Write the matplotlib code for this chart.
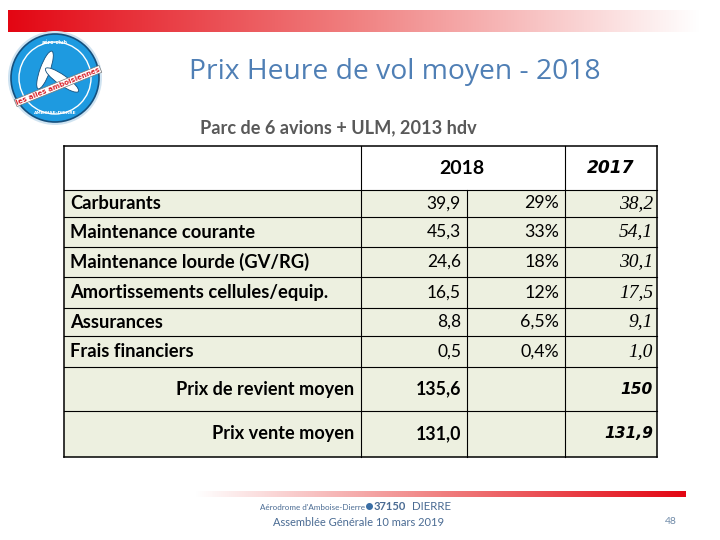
import matplotlib
matplotlib.use("Agg")
import matplotlib.pyplot as plt
import numpy as np
from matplotlib.patches import Rectangle, Circle, Ellipse
from matplotlib.colors import LinearSegmentedColormap

# table content
cost_labels = [
    "Carburants",
    "Maintenance courante",
    "Maintenance lourde (GV/RG)",
    "Amortissements cellules/equip.",
    "Assurances",
    "Frais financiers",
]
cost_2018 = ["39,9", "45,3", "24,6", "16,5", "8,8", "0,5"]
share_2018 = ["29%", "33%", "18%", "12%", "6,5%", "0,4%"]
cost_2017 = ["38,2", "54,1", "30,1", "17,5", "9,1", "1,0"]

summary_labels = ["Prix de revient moyen", "Prix vente moyen"]
summary_2018 = ["135,6", "131,0"]
summary_2017 = ["150", "131,9"]

year_headers = ["2018", "2017"]

TITLE = "Prix Heure de vol moyen - 2018"
SUBTITLE = "Parc de 6 avions + ULM, 2013 hdv"

GREEN = "#EDF0E0"
TITLE_BLUE = "#4F7FB5"
FOOT_BLUE = "#4A6B93"
SANS = "Lato"

fig = plt.figure(figsize=(7.2, 5.4), dpi=100)
ax = fig.add_axes([0, 0, 1, 1])
ax.set_xlim(0, 720)
ax.set_ylim(540, 0)
ax.axis("off")

# gradient bars (top: red -> white, bottom: white -> red)
red_white = LinearSegmentedColormap.from_list("rw", ["#E30613", "#F08080", "#FFFFFF"])
grad = np.linspace(0, 1, 256).reshape(1, -1)
ax.imshow(grad, cmap=red_white, extent=[8, 700, 32, 10], aspect="auto", zorder=1)
ax.imshow(grad[:, ::-1], cmap=red_white, extent=[195, 686, 497, 491], aspect="auto", zorder=1)

# logo (simplified)
ax.add_patch(Circle((55, 78), 47, facecolor="#CFE3F1", edgecolor="none", zorder=2))
ax.add_patch(Circle((55, 78), 44, facecolor="#1E9AE0", edgecolor="#14507E", lw=1.2, zorder=2))
ax.add_patch(Circle((55, 78), 36, facecolor="none", edgecolor="white", lw=1.0, zorder=3))
ax.add_patch(Ellipse((45, 70), 10, 40, angle=20, facecolor="white", edgecolor="#14507E", lw=0.6, zorder=3))
ax.add_patch(Ellipse((62, 80), 10, 40, angle=-55, facecolor="white", edgecolor="#14507E", lw=0.6, zorder=3))
ax.text(55, 43, "aéro-club", fontsize=3.5, color="white", ha="center", va="center", weight="bold", zorder=4)
ax.text(55, 113, "AMBOISE-DIERRE", fontsize=3.2, color="white", ha="center", va="center", weight="bold", zorder=4)
ax.text(58, 86, "les ailes amboisiennes", fontsize=5, color="#D8262E", ha="center", va="center",
        rotation=22, weight="bold", zorder=4,
        bbox=dict(boxstyle="square,pad=0.1", facecolor="white", edgecolor="#777777", lw=0.5))

# titles
ax.text(395, 72, TITLE, fontsize=20.3, color=TITLE_BLUE, ha="center", va="center", family="Open Sans")
ax.text(338, 128, SUBTITLE, fontsize=13.1, color="#595959", ha="center", va="center", family=SANS,
        weight="bold")

# table geometry
x_left, x_c1, x_c2, x_c3, x_right = 64, 361, 467, 565, 657
row_edges = [146, 190, 217, 247, 277, 308, 336, 367, 411, 457]

# backgrounds
ax.add_patch(Rectangle((x_left, row_edges[0]), x_right - x_left, row_edges[1] - row_edges[0],
                       facecolor="white", edgecolor="none", zorder=2))
ax.add_patch(Rectangle((x_left, row_edges[1]), x_right - x_left, row_edges[-1] - row_edges[1],
                       facecolor=GREEN, edgecolor="none", zorder=2))

line_kw = dict(color="black", lw=0.8, zorder=3)
# horizontal lines
for i, y in enumerate(row_edges):
    lw = 1.1 if i in (0, len(row_edges) - 1) else 0.8
    ax.plot([x_left, x_right], [y, y], color="black", lw=lw, zorder=3)
# vertical lines
ax.plot([x_left, x_left], [row_edges[0], row_edges[-1]], color="black", lw=1.1, zorder=3)
ax.plot([x_right, x_right], [row_edges[0], row_edges[-1]], color="black", lw=1.1, zorder=3)
ax.plot([x_c1, x_c1], [row_edges[0], row_edges[-1]], **line_kw)
ax.plot([x_c3, x_c3], [row_edges[0], row_edges[-1]], **line_kw)
ax.plot([x_c2, x_c2], [row_edges[1], row_edges[-1]], **line_kw)

# header
hy = (row_edges[0] + row_edges[1]) / 2
ax.text(462, hy, year_headers[0], fontsize=14, ha="center", va="center",
        family=SANS, weight="bold", zorder=4)
ax.text(611, hy, year_headers[1], fontsize=12.3, ha="center", va="center",
        family="DejaVu Sans", weight="bold", style="italic", zorder=4)

# cost rows
for i, label in enumerate(cost_labels):
    cy = (row_edges[i + 1] + row_edges[i + 2]) / 2
    ax.text(x_left + 6, cy, label, fontsize=13.2, ha="left", va="center", family=SANS,
            weight="bold", zorder=4)
    ax.text(x_c2 - 6, cy, cost_2018[i], fontsize=12.5, ha="right", va="center", family=SANS, zorder=4)
    ax.text(x_c3 - 6, cy, share_2018[i], fontsize=12.8, ha="right", va="center", family=SANS, zorder=4)
    ax.text(x_right - 4, cy, cost_2017[i], fontsize=14, ha="right", va="center",
            family="Liberation Serif", style="italic", zorder=4)

# summary rows
n = len(cost_labels)
for j, label in enumerate(summary_labels):
    cy = (row_edges[n + 1 + j] + row_edges[n + 2 + j]) / 2
    ax.text(x_c1 - 7, cy, label, fontsize=13.1, ha="right", va="center", family=SANS,
            weight="bold", zorder=4)
    ax.text(x_c2 - 6, cy, summary_2018[j], fontsize=12.8, ha="right", va="center", family=SANS,
            weight="bold", zorder=4)
    ax.text(x_right - 4, cy, summary_2017[j], fontsize=11.2, ha="right", va="center",
            family="DejaVu Sans", weight="bold", style="italic", zorder=4)

# footer
ax.text(260, 507, "Aérodrome d'Amboise-Dierre", fontsize=5.8, color=FOOT_BLUE, ha="left",
        va="center", family=SANS)
ax.plot([369], [506], marker="o", ms=4, color="#3A6EA5", zorder=4)
ax.text(374, 507, "37150", fontsize=8.0, color=FOOT_BLUE, ha="left", va="center", family=SANS,
        weight="bold")
ax.text(412, 507, "DIERRE", fontsize=8.3, color=FOOT_BLUE, ha="left", va="center", family=SANS)
ax.text(359, 522, "Assemblée Générale 10 mars 2019", fontsize=8.0, color=FOOT_BLUE, ha="center",
        va="center", family=SANS)
ax.text(671, 522, "48", fontsize=7.5, color="#6F8AA8", ha="center", va="center", family=SANS)

fig.savefig("out.png", dpi=100)
plt.close("all")
